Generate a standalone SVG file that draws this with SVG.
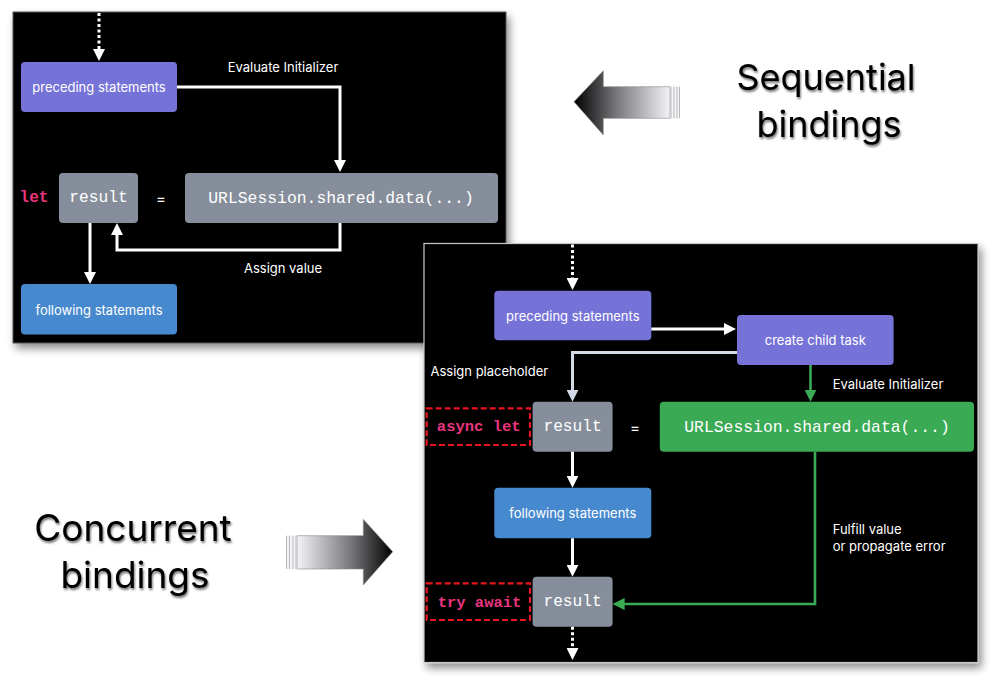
<svg xmlns="http://www.w3.org/2000/svg" width="1000" height="689" viewBox="0 0 1000 689">
<defs>
<style>
.panel{fill:#000;}
.lbl{font-family:Inter,"Liberation Sans",sans-serif;font-size:13px;fill:#fff;}
.ntext{font-family:Inter,"Liberation Sans",sans-serif;font-size:13px;fill:#fff;text-anchor:middle;dominant-baseline:central;}
.mono{font-family:"Liberation Mono","DejaVu Sans Mono",monospace;font-size:16.4px;fill:#fff;text-anchor:middle;dominant-baseline:central;}
.kw{font-family:"Liberation Mono","DejaVu Sans Mono",monospace;font-size:15.5px;font-weight:bold;fill:#E8357E;text-anchor:middle;dominant-baseline:central;}
.big{font-family:Inter,"Liberation Sans",sans-serif;font-size:36px;fill:#000;text-anchor:middle;}
.purple{fill:#7673D8;}
.gray{fill:#868E9B;}
.blue{fill:#4789CF;}
.green{fill:#3BAA55;}
.w{fill:none;stroke:#fff;stroke-width:3;}
.dot{fill:none;stroke:#fff;stroke-width:3;stroke-dasharray:3 2.5;}
.ph{fill:none;stroke:#D5DBE6;stroke-width:3;}
.g{fill:none;stroke:#3BAA55;stroke-width:2.6;}
.red{fill:none;stroke:#E8141E;stroke-width:2.2;stroke-dasharray:6 3;}
</style>
<marker id="aw" markerWidth="12" markerHeight="12" refX="3" refY="6" orient="auto" markerUnits="userSpaceOnUse"><path d="M0,0 L12,6 L0,12 z" fill="#fff"/></marker>
<marker id="ap" markerWidth="12" markerHeight="12" refX="3" refY="6" orient="auto" markerUnits="userSpaceOnUse"><path d="M0,0 L12,6 L0,12 z" fill="#D5DBE6"/></marker>
<marker id="ag" markerWidth="12" markerHeight="12" refX="3" refY="6" orient="auto" markerUnits="userSpaceOnUse"><path d="M0,0 L12,6 L0,12 z" fill="#3BAA55"/></marker>
<filter id="sh" x="-10%" y="-10%" width="125%" height="125%">
<feGaussianBlur in="SourceAlpha" stdDeviation="4"/>
<feOffset dx="3" dy="5" result="b"/>
<feComponentTransfer><feFuncA type="linear" slope="0.45"/></feComponentTransfer>
<feMerge><feMergeNode/><feMergeNode in="SourceGraphic"/></feMerge>
</filter>
<filter id="tsh" x="-10%" y="-20%" width="120%" height="150%">
<feGaussianBlur in="SourceAlpha" stdDeviation="1.2"/>
<feOffset dx="1" dy="1.5"/>
<feComponentTransfer><feFuncA type="linear" slope="0.55"/></feComponentTransfer>
<feMerge><feMergeNode/><feMergeNode in="SourceGraphic"/></feMerge>
</filter>
<linearGradient id="gl" x1="574" y1="0" x2="670" y2="0" gradientUnits="userSpaceOnUse">
<stop offset="0" stop-color="#000"/><stop offset="0.45" stop-color="#7a7a7e"/><stop offset="1" stop-color="#f4f4f8"/>
</linearGradient>
<linearGradient id="gr" x1="393" y1="0" x2="297" y2="0" gradientUnits="userSpaceOnUse">
<stop offset="0" stop-color="#000"/><stop offset="0.45" stop-color="#7a7a7e"/><stop offset="1" stop-color="#f4f4f8"/>
</linearGradient>
</defs>
<rect width="1000" height="689" fill="#fff"/>

<!-- side labels and big arrows -->
<g id="seq-label" filter="url(#tsh)">
<text class="big" x="826" y="90">Sequential</text>
<text class="big" x="829" y="137">bindings</text>
</g>
<g id="seq-arrow">
<polygon points="574,101.7 603.3,70.7 603.3,86.7 670,86.7 670,118.3 603.3,118.3 603.3,135" fill="url(#gl)" stroke="#888" stroke-width="0.6"/>
<rect x="670.5" y="86.7" width="9" height="31.6" fill="#f4f4f6"/>
<g stroke="#b8b8bc" stroke-width="1"><line x1="671" y1="86.7" x2="671" y2="118.3"/><line x1="674" y1="86.7" x2="674" y2="118.3"/><line x1="677" y1="86.7" x2="677" y2="118.3"/><line x1="679.5" y1="86.7" x2="679.5" y2="118.3"/></g>
</g>
<g id="con-label" filter="url(#tsh)">
<text class="big" x="133" y="541" style="font-size:37px">Concurrent</text>
<text class="big" x="135" y="588" style="font-size:37px">bindings</text>
</g>
<g id="con-arrow">
<polygon points="392.7,551.7 363.3,519.3 363.3,535.7 297,535.7 297,569 363.3,569 363.3,585" fill="url(#gr)" stroke="#888" stroke-width="0.6"/>
<rect x="286" y="535.7" width="10.5" height="33.3" fill="#f4f4f6"/>
<g stroke="#b8b8bc" stroke-width="1"><line x1="286.5" y1="535.7" x2="286.5" y2="569"/><line x1="289.5" y1="535.7" x2="289.5" y2="569"/><line x1="293" y1="535.7" x2="293" y2="569"/><line x1="296" y1="535.7" x2="296" y2="569"/></g>
</g>

<!-- top panel: sequential -->
<g id="panel-seq">
<rect class="panel" x="13" y="12" width="493" height="331" stroke="#555" stroke-width="1" filter="url(#sh)"/>
<g id="s-preceding"><rect class="purple" x="21" y="62" width="156" height="50" rx="4"/><text class="ntext" x="99" y="87">preceding statements</text></g>
<g id="s-let"><text class="kw" x="34" y="198" style="font-size:16px">let</text></g>
<g id="s-result"><rect class="gray" x="59" y="173" width="79" height="50" rx="4"/><text class="mono" x="98.5" y="198" style="font-size:16.2px">result</text></g>
<text class="ntext" x="161" y="198" style="font-size:15px">=</text>
<g id="s-urlsession"><rect class="gray" x="185" y="173" width="313" height="50" rx="4"/><text class="mono" x="341" y="198">URLSession.shared.data(...)</text></g>
<g id="s-following"><rect class="blue" x="21" y="284" width="156" height="50.5" rx="4"/><text class="ntext" x="99" y="309.5">following statements</text></g>
<g id="s-connectors">
<path class="dot" d="M99,13 V52" marker-end="url(#aw)"/>
<path class="w" d="M177,87 H340 V163" marker-end="url(#aw)"/>
<path class="w" d="M340,223 V250 H117 V232" marker-end="url(#aw)"/>
<path class="w" d="M90,223 V275" marker-end="url(#aw)"/>
</g>
<text class="lbl" x="283" y="72" text-anchor="middle">Evaluate Initializer</text>
<text class="lbl" x="283" y="273" text-anchor="middle">Assign value</text>
</g>

<!-- bottom panel: concurrent -->
<g id="panel-con">
<rect class="panel" x="424" y="243.5" width="554" height="419" stroke="#c8c8c8" stroke-width="1.2" filter="url(#sh)"/>
<g id="c-preceding"><rect class="purple" x="494.3" y="290.7" width="157" height="49.6" rx="4"/><text class="ntext" x="572.8" y="315.7">preceding statements</text></g>
<g id="c-child"><rect class="purple" x="737" y="315" width="156.6" height="50" rx="4"/><text class="ntext" x="815.3" y="340.3">create child task</text></g>
<g id="c-asynclet"><rect class="red" x="426.7" y="408.3" width="103.3" height="36.7"/><text class="kw" x="478.7" y="427">async let</text></g>
<g id="c-result1"><rect class="gray" x="532.6" y="401.7" width="80" height="50" rx="4"/><text class="mono" x="572.6" y="427" style="font-size:16.2px">result</text></g>
<text class="ntext" x="635" y="427" style="font-size:15px">=</text>
<g id="c-urlsession"><rect class="green" x="659.8" y="401.7" width="314.2" height="50" rx="4"/><text class="mono" x="817" y="427">URLSession.shared.data(...)</text></g>
<g id="c-following"><rect class="blue" x="494.3" y="487.7" width="157" height="50.6" rx="4"/><text class="ntext" x="572.8" y="513">following statements</text></g>
<g id="c-tryawait"><rect class="red" x="426.7" y="583.3" width="103.3" height="36.7"/><text class="kw" x="479.5" y="602.7">try await</text></g>
<g id="c-result2"><rect class="gray" x="532.6" y="576.7" width="80" height="50" rx="4"/><text class="mono" x="572.6" y="602" style="font-size:16.2px">result</text></g>
<g id="c-connectors">
<path class="dot" d="M572.5,244.5 V281" marker-end="url(#aw)"/>
<path class="w" d="M651.3,329 H727" marker-end="url(#aw)"/>
<path class="ph" d="M737,352.5 H572.5 V392.7" marker-end="url(#ap)"/>
<path class="g" d="M810.5,365 V392.7" marker-end="url(#ag)"/>
<path class="w" d="M572.5,451.7 V478.7" marker-end="url(#aw)"/>
<path class="w" d="M572.5,538.3 V567.7" marker-end="url(#aw)"/>
<path class="g" d="M815,451.7 V604 H621.6" marker-end="url(#ag)"/>
<path class="dot" d="M572.5,626.7 V651" marker-end="url(#aw)"/>
</g>
<text class="lbl" x="430.5" y="376">Assign placeholder</text>
<text class="lbl" x="832.7" y="388.5">Evaluate Initializer</text>
<text class="lbl" x="832.7" y="534">Fulfill value</text>
<text class="lbl" x="832.7" y="550.5">or propagate error</text>
</g>
</svg>
